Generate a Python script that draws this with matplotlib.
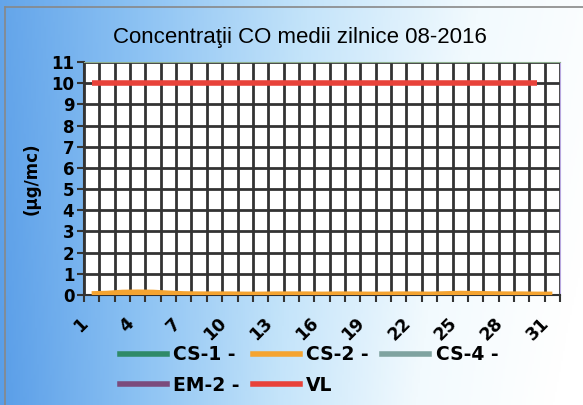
import numpy as np
import matplotlib.pyplot as plt
import matplotlib.transforms as mtransforms
from matplotlib.colors import LinearSegmentedColormap
from matplotlib.lines import Line2D

# daily CO averages, August 2016
days = list(range(1, 32))
cs1 = [np.nan] * 31
cs2 = [0.05, 0.07, 0.12, 0.13, 0.12, 0.08, 0.05, 0.04, 0.04, 0.04, 0.03,
       0.03, 0.04, 0.04, 0.04, 0.03, 0.04, 0.04, 0.03, 0.03, 0.04, 0.04,
       0.03, 0.05, 0.07, 0.06, 0.05, 0.04, 0.04, 0.03, 0.03]
cs4 = [np.nan] * 31
em2 = [np.nan] * 31
vl = [10] * 30 + [np.nan]

xticklabels = [str(d) for d in range(1, 32, 3)]
yticks = list(range(0, 12))

series = [
    ('CS-1 -', cs1, '#2f8a68'),
    ('CS-2 -', cs2, '#f5a431'),
    ('CS-4 -', cs4, '#7fa3a0'),
    ('EM-2 -', em2, '#7b4b7d'),
    ('VL', vl, '#e8423a'),
]

plt.rcParams['font.family'] = ['DejaVu Sans']
bold = {'family': 'DejaVu Sans', 'weight': 'bold'}

fig = plt.figure(figsize=(5.83, 4.05), dpi=100)

# blue gradient background
bg = fig.add_axes([0, 0, 1, 1], zorder=-5)
gx, gy = np.meshgrid(np.linspace(0, 1, 300), np.linspace(0, 1, 200))
grad = np.clip(gx * 0.85 + (1 - gy) * 0.05 + gx * gy * 0.2, 0, 1)
cmap = LinearSegmentedColormap.from_list('bgblue', ['#5a9ee8', '#8cc2f3', '#c4e4fa', '#f2fafe', '#ffffff'])
bg.imshow(grad, cmap=cmap, aspect='auto', extent=[0, 1, 0, 1], origin='upper')
bg.set_axis_off()
bg.plot([5 / 583, 5 / 583], [0, 1 - 7 / 405], color='#888888', lw=1.2)
bg.plot([5 / 583, 1], [1 - 7 / 405, 1 - 7 / 405], color='#888888', lw=1.2)
bg.set_xlim(0, 1)
bg.set_ylim(0, 1)

ax = fig.add_axes([84 / 583, 1 - 295 / 405, 476 / 583, 233 / 405])
ax.set_facecolor('white')

for name, vals, col in series:
    ax.plot(days, vals, color=col, lw=4, solid_capstyle='butt', zorder=3)

ax.set_xlim(0.5, 31.5)
ax.set_ylim(0, 11)
ax.set_yticks(yticks)
ax.set_yticklabels([str(v) for v in yticks], fontdict=dict(bold, size=12))

ax.set_xticks(range(1, 32, 3))
ax.set_xticklabels(xticklabels, rotation=45, ha='right', va='top',
                   fontdict=dict(bold, size=12.5))
shift = mtransforms.ScaledTranslation(-8 / 100, -4 / 100, fig.dpi_scale_trans)
for lbl in ax.get_xticklabels():
    lbl.set_transform(lbl.get_transform() + shift)
ax.tick_params(axis='x', which='major', length=0, pad=14)
ax.set_xticks(np.arange(0.5, 32, 1), minor=True)
ax.tick_params(axis='x', which='minor', length=5, width=1.5, color='#333333', direction='out')
ax.tick_params(axis='y', length=5, width=1.5, color='#333333', direction='out', pad=2)

ax.grid(True, which='minor', axis='x', color='#333333', lw=2)
ax.grid(True, which='major', axis='y', color='#333333', lw=2)
ax.set_axisbelow(True)

ax.spines['left'].set_color('#333333')
ax.spines['left'].set_linewidth(1.5)
ax.spines['bottom'].set_color('#333333')
ax.spines['bottom'].set_linewidth(1.5)
ax.spines['top'].set_color('#8fb08f')
ax.spines['right'].set_color('#b8a8e0')

ax.set_ylabel('(µg/mc)', fontdict=dict(bold, size=12), labelpad=8)

fig.text(0.515, 1 - 37 / 405, 'Concentraţii CO medii zilnice 08-2016',
         ha='center', va='center', fontsize=16, family='Liberation Sans')

# legend fills column by column, so reorder to read row by row
order = [0, 3, 1, 4, 2]
handles = [Line2D([], [], color=series[i][2], lw=4) for i in order]
labels = [series[i][0] for i in order]
fig.legend(handles, labels, ncol=3, loc='center', bbox_to_anchor=(0.53, 1 - 370 / 405),
           frameon=False, prop=dict(bold, size=13.5),
           handlelength=2.5, handletextpad=0.35, columnspacing=0.7, labelspacing=0.6)

fig.savefig('out.png', dpi=100)
